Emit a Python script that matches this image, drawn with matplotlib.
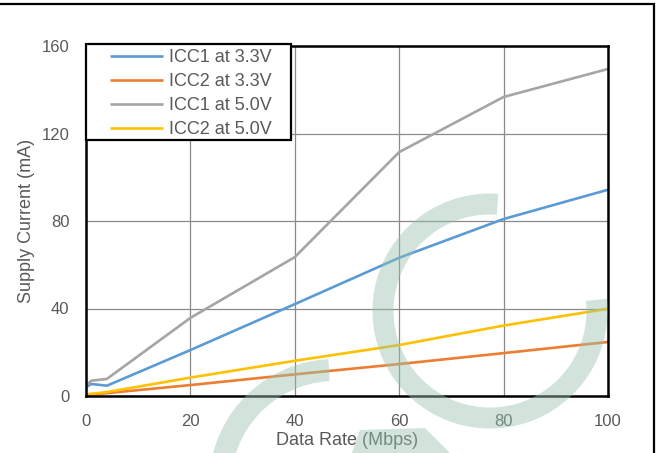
import matplotlib
matplotlib.use("Agg")
import matplotlib.pyplot as plt
import numpy as np
from matplotlib.patches import Polygon, Rectangle

plt.rcParams['font.family'] = ['Liberation Sans', 'DejaVu Sans']

# data
rate = [0, 1, 4, 20, 40, 60, 80, 100]
icc1_33 = [4.0, 5.5, 4.7, 21.0, 42.0, 63.2, 80.9, 94.3]
icc2_33 = [0.5, 0.7, 1.3, 5.0, 9.9, 14.6, 19.6, 24.7]
icc1_50 = [4.5, 7.0, 7.8, 35.7, 63.5, 111.5, 136.7, 149.5]
icc2_50 = [0.8, 1.0, 1.8, 8.4, 16.1, 23.3, 32.2, 39.9]
labels = ['ICC1 at 3.3V', 'ICC2 at 3.3V', 'ICC1 at 5.0V', 'ICC2 at 5.0V']
colors = ['#5B9BD5', '#ED7D31', '#A5A5A5', '#FFC000']

txt = '#595959'

fig = plt.figure(figsize=(6.6, 4.53), dpi=100)
ax = fig.add_axes([86/660, 1-396/453, 522/660, 350/453])

for ys, lab, c in zip([icc1_33, icc2_33, icc1_50, icc2_50], labels, colors):
    ax.plot(rate, ys, color=c, lw=1.9, label=lab, solid_capstyle='butt', zorder=3)

ax.set_xlim(0, 100)
ax.set_ylim(0, 160)
ax.set_xticks(range(0, 101, 20))
ax.set_yticks(range(0, 161, 40))
ax.grid(True, color='#8a8a8a', lw=0.9)
ax.tick_params(length=0, labelsize=12, labelcolor=txt)
ax.tick_params(axis='x', pad=13)
ax.tick_params(axis='y', pad=12)
for s in ax.spines.values():
    s.set_color('black')
    s.set_linewidth(1.8)
    s.set_zorder(4)

ax.set_xlabel('Data Rate (Mbps)', fontsize=13, color=txt, labelpad=2)
ax.set_ylabel('Supply Current (mA)', fontsize=13, color=txt, labelpad=5)

# legend box drawn by hand so the padding matches
ax.add_patch(Rectangle((86/660, 1-140/453), 205/660, 96/453, transform=fig.transFigure,
                       facecolor='white', edgecolor='black', lw=1.6,
                       clip_on=False, zorder=4.5))
leg = ax.legend(loc='upper left', bbox_to_anchor=(110/660, 1-49.5/453),
                bbox_transform=fig.transFigure, fontsize=13, frameon=False,
                borderaxespad=0, borderpad=0,
                handlelength=2.95, handletextpad=0.33, labelspacing=0.38)
leg.set_zorder(5)
for t in leg.get_texts():
    t.set_color(txt)

# watermark overlay and outer frame, in pixel coords
ov = fig.add_axes([0, 0, 1, 1], zorder=10)
ov.set_xlim(0, 660)
ov.set_ylim(453, 0)
ov.axis('off')


def band(cx, cy, r, w, a0, a1):
    th = np.radians(np.linspace(a0, a1, 200))
    outer = np.column_stack([cx + (r + w/2)*np.cos(th), cy - (r + w/2)*np.sin(th)])
    inner = np.column_stack([cx + (r - w/2)*np.cos(th), cy - (r - w/2)*np.sin(th)])
    return np.vstack([outer, inner[::-1]])


wm = (0.6, 0.76, 0.68)
ov.add_patch(Polygon(band(490, 311, 107, 21, 86, 366), closed=True,
                     facecolor=wm, edgecolor='none', alpha=0.45))
ov.add_patch(Polygon(band(335, 485, 115, 22, 93, 200), closed=True,
                     facecolor=wm, edgecolor='none', alpha=0.45))
ov.add_patch(Polygon([(360, 430), (425, 428), (450, 453), (352, 453)], closed=True,
                     facecolor=wm, edgecolor='none', alpha=0.45))

ov.add_patch(Rectangle((-10, 4), 664, 460, fill=False, edgecolor='black', lw=1.6))

fig.savefig('out.png', dpi=100)
